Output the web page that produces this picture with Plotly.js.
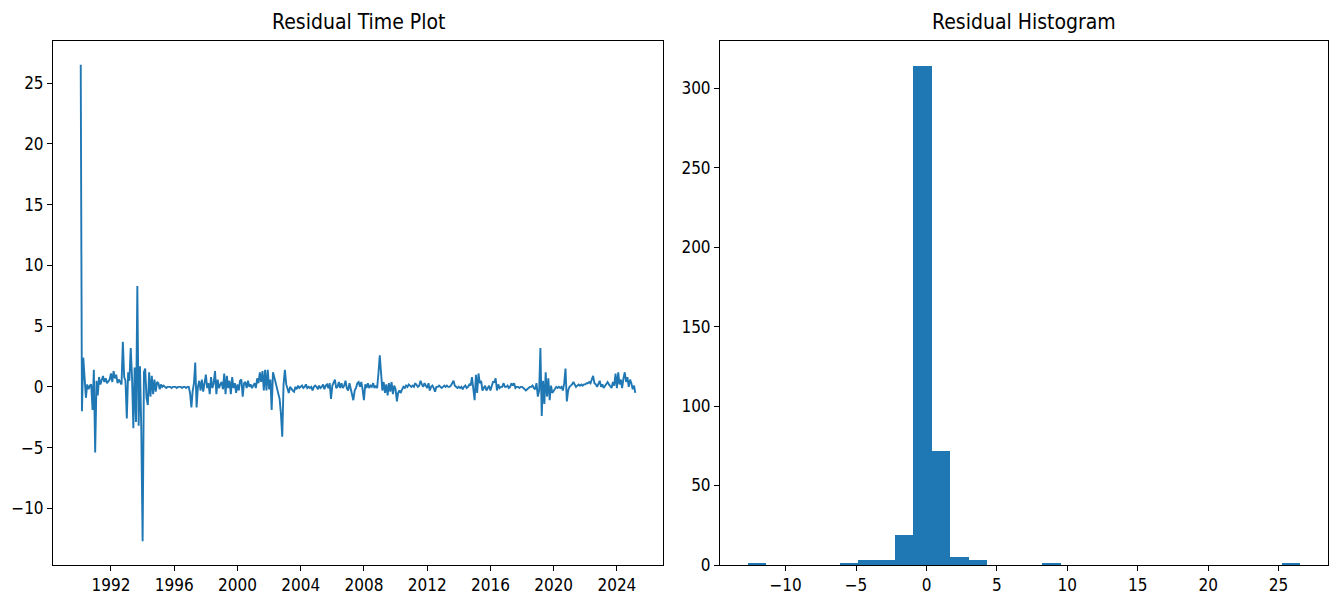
<!DOCTYPE html>
<html><head><meta charset="utf-8">
<script src="https://cdn.plot.ly/plotly-3.0.1.min.js"></script>
<style>html,body{margin:0;padding:0;background:#fff}#chart{width:1331px;height:603px}</style>
</head><body><div id="chart"></div>
<script>
// Monthly residual series, first value = Feb 1990
const startYear = 1990;
const startMonthIndex = 1; // February (0-based)
const residuals = [
  // 1990 (Feb-Dec)
  26.5, -2.0, 2.4, 0.5, -0.9, 0.2, -0.2, 0.1, 0.2, -1.9, 1.4,
  // 1991
  -5.4, 0.5, -0.7, 0.8, 0.2, 0.6, 0.9, 0.4, 0.7, 0.3, 0.5, 0.6,
  // 1992
  1.1, 0.4, 1.3, 0.7, 1.0, 0.3, 0.6, 0.4, 0.2, 3.7, 0.8, 0.5,
  // 1993
  -2.6, 1.2, 0.5, 3.2, 0.8, -3.4, 1.6, -2.9, 8.3, -3.2, 1.7, -3.5,
  // 1994
  -12.7, 1.2, 1.5, -0.9, -1.5, 1.2, -0.8, 0.9, -0.6, 0.6, -0.4, 0.4,
  // 1995
  0.3, -0.2, 0.2, 0.0, 0.1, 0.0, -0.1, 0.0, 0.0, 0.0, -0.1, 0.0,
  // 1996
  0.0, 0.0, -0.1, 0.0, 0.0, 0.0, -0.1, 0.0, 0.0, -0.1, 0.0, 0.0,
  // 1997
  -0.5, -1.7, -0.4, 0.3, 2.0, -1.7, 0.0, 0.5, -0.3, 0.6, -0.4, 0.2,
  // 1998
  1.0, -0.1, 0.3, -0.6, 0.8, -0.1, 0.3, 1.3, -0.6, 0.6, -0.1, 0.2,
  // 1999
  0.4, -0.2, 1.1, -0.6, 0.9, -0.1, 0.5, -0.6, 0.8, -0.1, 0.3, -0.5,
  // 2000
  0.2, -0.3, 0.5, 0.6, -0.8, 0.3, 0.4, -0.1, 0.5, 0.0, 0.2, -0.1,
  // 2001
  0.1, 0.3, -0.1, 0.7, 0.3, 1.2, 0.4, 1.3, -0.3, 1.4, -0.3, 1.4,
  // 2002
  -0.2, 0.6, -1.9, 1.2, 0.8, 0.4, 0.0, -0.5, -1.0, -2.2, -4.1, 0.2,
  // 2003
  1.4, 0.2, -0.2, -0.5, 0.0, -0.2, -0.3, -0.4, 0.0, -0.2, 0.1, -0.1,
  // 2004
  0.0, 0.1, -0.1, 0.0, 0.2, -0.1, 0.0, -0.1, 0.0, -0.3, 0.0, 0.1,
  // 2005
  0.0, -0.2, 0.1, -0.1, 0.0, 0.2, -0.2, 0.1, 0.2, -0.1, 0.3, -1.0,
  // 2006
  0.1, 0.3, 0.6, -0.1, 0.0, 0.4, -0.1, 0.3, -0.1, 0.1, 0.5, -0.1,
  // 2007
  -0.3, 0.3, -0.2, -0.5, -1.1, -0.3, -0.1, 0.3, 0.4, 0.0, 0.4, -0.2,
  // 2008
  -1.1, 0.2, -0.1, 0.3, -0.1, 0.1, 0.0, 0.3, -0.1, 0.1, -0.1, 1.1,
  // 2009
  2.6, 1.1, -0.3, 0.4, -0.5, 0.2, -0.7, 0.3, -0.4, 0.4, -0.6, 0.1,
  // 2010
  -0.2, -1.2, -0.5, -0.3, -0.5, -0.2, 0.0, -0.1, 0.1, 0.0, 0.2, 0.1,
  // 2011
  0.0, 0.1, 0.0, 0.3, 0.1, 0.0, 0.1, 0.5, 0.2, 0.0, 0.3, 0.1,
  // 2012
  -0.1, 0.3, -0.3, 0.0, 0.1, -0.1, -0.4, 0.0, 0.0, 0.1, 0.0, -0.1,
  // 2013
  0.0, 0.1, 0.0, 0.1, 0.0, 0.0, 0.1, 0.3, 0.5, 0.1, 0.0, -0.1,
  // 2014
  0.0, -0.1, 0.0, -0.2, 0.0, 0.1, -0.1, 0.0, 0.2, 0.1, 0.8, -0.4,
  // 2015
  -1.1, 1.0, -0.5, 1.1, 0.3, 0.5, -0.3, -0.1, 0.1, -0.3, -0.1, 0.1,
  // 2016
  -0.3, 0.0, 0.4, 0.4, 0.7, -0.3, 0.2, -0.1, 0.0, 0.0, 0.3, 0.0,
  // 2017
  0.0, 0.1, -0.1, 0.0, 0.3, 0.1, 0.3, -0.1, 0.0, 0.0, -0.1, 0.0,
  // 2018
  0.0, -0.1, -0.2, -0.3, -0.2, -0.1, 0.0, 0.0, 0.1, -0.1, -0.2, 0.3,
  // 2019
  -0.8, -0.3, 3.2, -2.4, 0.5, -1.4, 1.2, -0.8, 0.7, -1.1, 0.1, -0.5,
  // 2020
  -0.3, -0.1, 0.0, -0.1, 0.0, -0.1, 0.0, -0.3, 0.3, 1.5, -1.2, -0.3,
  // 2021
  0.0, 0.1, 0.2, 0.4, 0.2, 0.0, 0.1, 0.2, 0.1, 0.2, 0.1, 0.2,
  // 2022
  0.2, 0.3, 0.3, 0.4, 0.3, 0.6, 0.9, 0.3, 0.2, 0.0, 0.2, 0.5,
  // 2023
  0.0, 0.2, -0.1, 0.1, 0.3, 0.4, 0.2, 0.0, -0.1, 0.4, 0.1, 1.1,
  // 2024
  -0.1, 1.2, 0.2, 0.6, -0.1, 0.7, 1.2, 0.4, 0.8, 0.0, 0.6, 0.3,
  // 2025 (Jan-Mar)
  -0.2, 0.1, -0.5
];

// Histogram (30 bins)
const histBinStart = -12.7;
const histBinWidth = 1.3083;
const histCounts = [1,0,0,0,0, 1,3,3,19,314, 72,5,3,0,0, 0,1,0,0,0, 0,0,0,0,0, 0,0,0,0,1];

const yearTickStart = '1992-01-01';
const titles = ['Residual Time Plot', 'Residual Histogram'];

const dates = residuals.map((_, i) => {
  const d = new Date(Date.UTC(startYear, startMonthIndex + i, 1));
  return d.toISOString().slice(0, 10);
});
const t0 = Date.parse(dates[0]), t1 = Date.parse(dates[dates.length - 1]);
const tm = (t1 - t0) * 0.05;
const rMin = Math.min(...residuals), rMax = Math.max(...residuals);
const rm = (rMax - rMin) * 0.05;

const centers = histCounts.map((_, i) => histBinStart + (i + 0.5) * histBinWidth);
const hMin = histBinStart, hMax = histBinStart + histCounts.length * histBinWidth;
const hm = (hMax - hMin) * 0.05;
const cMax = Math.max(...histCounts);

const blue = '#1f77b4';
const FONT = 'Liberation Sans Narrow, DejaVu Sans Condensed, DejaVu Sans, sans-serif';
const axisCommon = {
  showline: true, mirror: true, linecolor: '#000', linewidth: 1,
  ticks: 'outside', ticklen: 5, tickwidth: 1, tickcolor: '#000',
  showgrid: false, zeroline: false,
  tickfont: {family: FONT, size: 17, color: '#000'}
};

const traces = [
  {x: dates, y: residuals, type: 'scatter', mode: 'lines',
   line: {color: blue, width: 1.9}, xaxis: 'x', yaxis: 'y', hoverinfo: 'x+y'},
  {x: centers, y: histCounts, width: histBinWidth, type: 'bar',
   marker: {color: blue, line: {width: 0}}, xaxis: 'x2', yaxis: 'y2'}
];

const L = 53, R = 1328, W = R - L;
const layout = {
  width: 1331, height: 603,
  margin: {l: L, r: 1331 - R, t: 41, b: 38},
  paper_bgcolor: '#fff', plot_bgcolor: '#fff',
  showlegend: false, bargap: 0,
  font: {family: FONT, color: '#000'},
  xaxis: Object.assign({}, axisCommon, {
    type: 'date', domain: [0, (663 - L) / W],
    range: [t0 - tm, t1 + tm], tick0: yearTickStart, dtick: 'M48', tickformat: '%Y'
  }),
  yaxis: Object.assign({}, axisCommon, {
    anchor: 'x', range: [rMin - rm, rMax + rm], dtick: 5
  }),
  xaxis2: Object.assign({}, axisCommon, {
    anchor: 'y2', domain: [(720 - L) / W, 1], range: [hMin - hm, hMax + hm], dtick: 5
  }),
  yaxis2: Object.assign({}, axisCommon, {
    anchor: 'x2', range: [0, cMax * 1.05], dtick: 50
  }),
  annotations: titles.map((t, i) => ({
    text: t, xref: (i === 0 ? 'x' : 'x2') + ' domain', x: 0.5, yref: 'paper', y: 1,
    yanchor: 'bottom', yshift: 5, showarrow: false,
    font: {family: FONT, size: 21, color: '#000'}
  }))
};

Plotly.newPlot('chart', traces, layout, {displayModeBar: false, staticPlot: true});
</script>
</body></html>
